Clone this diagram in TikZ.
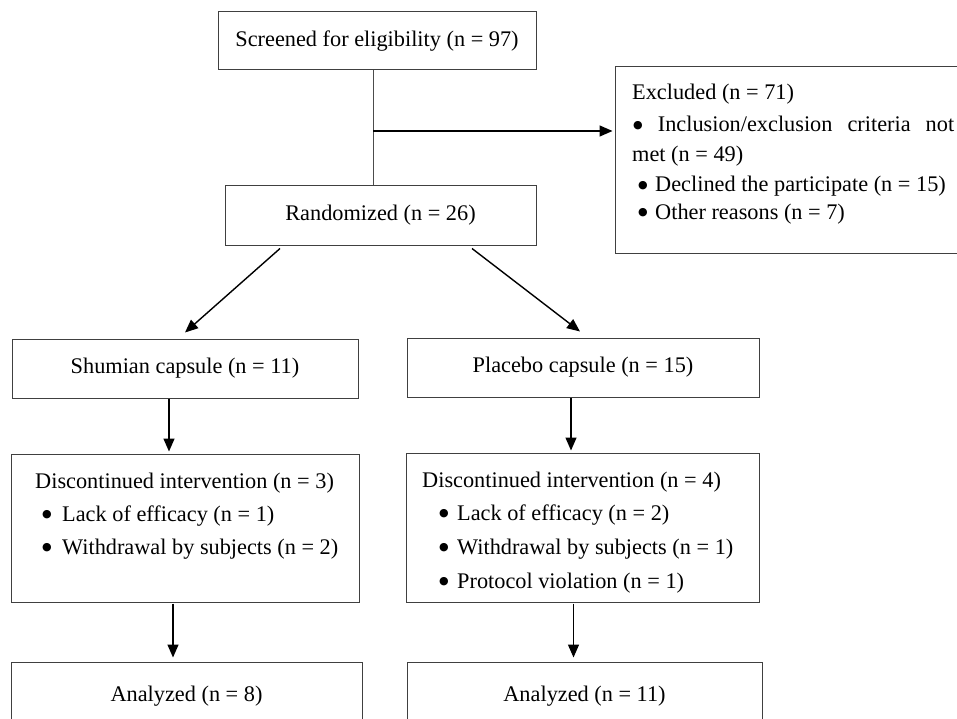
\documentclass[tikz,border=0pt]{standalone}
\usepackage{fontspec}
\setmainfont{Liberation Serif}
\newfontfamily\bulfont{DejaVu Sans}
\usetikzlibrary{arrows.meta}
\newcommand{\bigbul}{\raisebox{3.6pt}{\bulfont\fontsize{11}{11}\selectfont ●}}
\begin{document}
\begin{tikzpicture}[x=1pt,y=-1pt,
  box/.style={draw=black!75, line width=1pt, rectangle, inner sep=0pt, font=\fontsize{22.3}{26}\selectfont},
  txt/.style={anchor=base west, inner sep=0pt, font=\fontsize{22.3}{26}\selectfont},
  arr/.style={line width=1.4pt, -{Triangle[length=13pt,width=11pt]}},
  thin/.style={draw=black!70, line width=1pt},
]
\useasboundingbox (0,0) rectangle (957,719);
\clip (0,0) rectangle (957,719);
\fill[white] (0,0) rectangle (957,719);

% boxes
\node[box, minimum width=318pt, minimum height=58pt] (screened) at (377,41) {Screened for eligibility (n = 97)};
\node[box, minimum width=311pt, minimum height=59pt] (randomized) at (380.5,215.5) {Randomized (n = 26)};
\node[box, minimum width=370pt, minimum height=186pt] (excluded) at (800,160) {};
\node[box, minimum width=346pt, minimum height=59pt] (shumian) at (185,368.5) {Shumian capsule (n = 11)};
\node[box, minimum width=352pt, minimum height=59pt] (placebo) at (583,367.5) {Placebo capsule (n = 15)};
\node[box, minimum width=348pt, minimum height=148pt] (discL) at (185,528) {};
\node[box, minimum width=353pt, minimum height=149pt] (discR) at (582.5,527.5) {};
\node[box, minimum width=351pt, minimum height=68pt] (analL) at (186.5,696) {Analyzed (n = 8)};
\node[box, minimum width=355pt, minimum height=68pt] (analR) at (584.5,696) {Analyzed (n = 11)};

% excluded texts
\node[txt] (ex0) at (632,100) {Excluded (n = 71)};
\node[txt] (ex1) at (633,132) {\makebox[321pt][s]{\bigbul{} Inclusion/exclusion criteria not}};
\node[txt] (ex2) at (632,162) {met (n = 49)};
\node[txt] (ex3) at (638,192) {\makebox[17pt][l]{\bigbul}Declined the participate (n = 15)};
\node[txt] (ex4) at (638,219) {\makebox[17pt][l]{\bigbul}Other reasons (n = 7)};

% left discontinued texts
\node[txt] (dl0) at (35,488) {Discontinued intervention (n = 3)};
\node[txt] (dl1) at (42,521) {\makebox[20pt][l]{\bigbul}Lack of efficacy (n = 1)};
\node[txt] (dl2) at (42,554) {\makebox[20pt][l]{\bigbul}Withdrawal by subjects (n = 2)};

% right discontinued texts
\node[txt] (dr0) at (422,487) {Discontinued intervention (n = 4)};
\node[txt] (dr1) at (439,520) {\makebox[18pt][l]{\bigbul}Lack of efficacy (n = 2)};
\node[txt] (dr2) at (439,554) {\makebox[18pt][l]{\bigbul}Withdrawal by subjects (n = 1)};
\node[txt] (dr3) at (439,588) {\makebox[18pt][l]{\bigbul}Protocol violation (n = 1)};

% connectors
\coordinate (j) at (373,131);
\draw[thin] (screened.south -| j) -- (randomized.north -| j);
\draw[arr, shorten >=2pt] (j) -- (excluded.west |- j);
\draw[arr] ([xshift=-100.5pt,yshift=-3pt]randomized.south) -- ([yshift=6pt]shumian.north);
\draw[arr] ([xshift=91.5pt,yshift=-3pt]randomized.south) -- ([xshift=-3pt,yshift=6pt]placebo.north);
\path ([xshift=-16pt]shumian.south) coordinate (s1);
\path ([xshift=-12pt]placebo.south) coordinate (p1);
\path ([xshift=-12pt]discL.south) coordinate (d1);
\path ([xshift=-9pt]discR.south) coordinate (d2);
\draw[arr, shorten >=2pt] (s1) -- (s1 |- discL.north);
\draw[arr, shorten >=2pt] (p1) -- (p1 |- discR.north);
\draw[arr, shorten >=4pt, shorten <=1pt] (d1) -- (d1 |- analL.north);
\draw[arr, shorten >=4pt, shorten <=1pt] (d2) -- (d2 |- analR.north);
\end{tikzpicture}
\end{document}
